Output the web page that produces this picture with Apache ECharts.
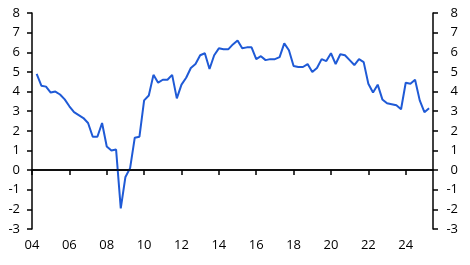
<!DOCTYPE html>
<html>
<head>
<meta charset="utf-8">
<script src="https://cdn.jsdelivr.net/npm/echarts@6/dist/echarts.min.js"></script>
<style>
html,body{margin:0;padding:0;background:#fff;}
#chart{width:470px;height:265px;}
</style>
</head>
<body>
<div id="chart"></div>
<script>
// Quarterly data, 2004Q2 .. 2025Q2
var startYear = 2004;
var startQuarter = 2;
var values = [
  4.9, 4.3, 4.25,
  3.95, 4.0, 3.85, 3.6,
  3.25, 2.95, 2.8, 2.65,
  2.4, 1.7, 1.7, 2.4,
  1.2, 1.0, 1.05, -1.95,
  -0.35, 0.1, 1.65, 1.7,
  3.55, 3.8, 4.85, 4.45,
  4.6, 4.6, 4.85, 3.65,
  4.35, 4.7, 5.2, 5.4,
  5.85, 5.95, 5.15, 5.85,
  6.2, 6.15, 6.15, 6.4,
  6.6, 6.2, 6.25, 6.25,
  5.65, 5.8, 5.6, 5.65,
  5.65, 5.75, 6.45, 6.1,
  5.3, 5.25, 5.25, 5.4,
  5.0, 5.2, 5.65, 5.55,
  5.95, 5.4, 5.9, 5.85,
  5.6, 5.35, 5.65, 5.5,
  4.4, 3.95, 4.35, 3.6,
  3.4, 3.35, 3.3, 3.1,
  4.45, 4.4, 4.6, 3.55,
  2.95, 3.15
];
var xMin = 2004, xMax = 2025.46;
var yMin = -3, yMax = 8;

var data = values.map(function (v, i) {
  var q = startQuarter - 1 + i;
  return [startYear + q / 4, v];
});

var font = '"Open Sans", "Noto Sans", sans-serif';
var chart = echarts.init(document.getElementById('chart'));
chart.setOption({
  animation: false,
  grid: {left: 32, right: 37, top: 13, bottom: 36},
  xAxis: {
    type: 'value', min: xMin, max: xMax, interval: 2,
    axisLine: {show: true, lineStyle: {color: '#000', width: 1.5}},
    axisTick: {show: true, length: 5, lineStyle: {color: '#000', width: 1.5}},
    splitLine: {show: false},
    axisLabel: {
      margin: 10, color: '#000', fontSize: 13, fontFamily: font,
      showMaxLabel: false,
      formatter: function (v) {
        if (Math.abs(v - Math.round(v)) > 1e-6) return '';
        return String(Math.round(v) % 100).padStart(2, '0');
      }
    }
  },
  yAxis: [
    {
      type: 'value', min: yMin, max: yMax, interval: 1, position: 'left',
      axisLine: {show: true, lineStyle: {color: '#000', width: 1.5}},
      axisTick: {show: true, length: 5, lineStyle: {color: '#000', width: 1.5}},
      splitLine: {show: false},
      axisLabel: {margin: 12, color: '#000', fontSize: 13, fontFamily: font}
    },
    {
      type: 'value', min: yMin, max: yMax, interval: 1, position: 'right',
      axisLine: {show: true, lineStyle: {color: '#000', width: 1.5}},
      axisTick: {show: true, length: 5, lineStyle: {color: '#000', width: 1.5}},
      splitLine: {show: false},
      axisLabel: {margin: 25, align: 'right', color: '#000', fontSize: 13, fontFamily: font}
    }
  ],
  series: [{
    type: 'line',
    data: data,
    showSymbol: false,
    lineStyle: {color: '#1f5ad6', width: 2},
    markLine: {
      silent: true, symbol: 'none', label: {show: false},
      lineStyle: {color: '#000', width: 1.5, type: 'solid'},
      data: [{yAxis: 0}]
    },
    z: 3
  }]
});
</script>
</body>
</html>
